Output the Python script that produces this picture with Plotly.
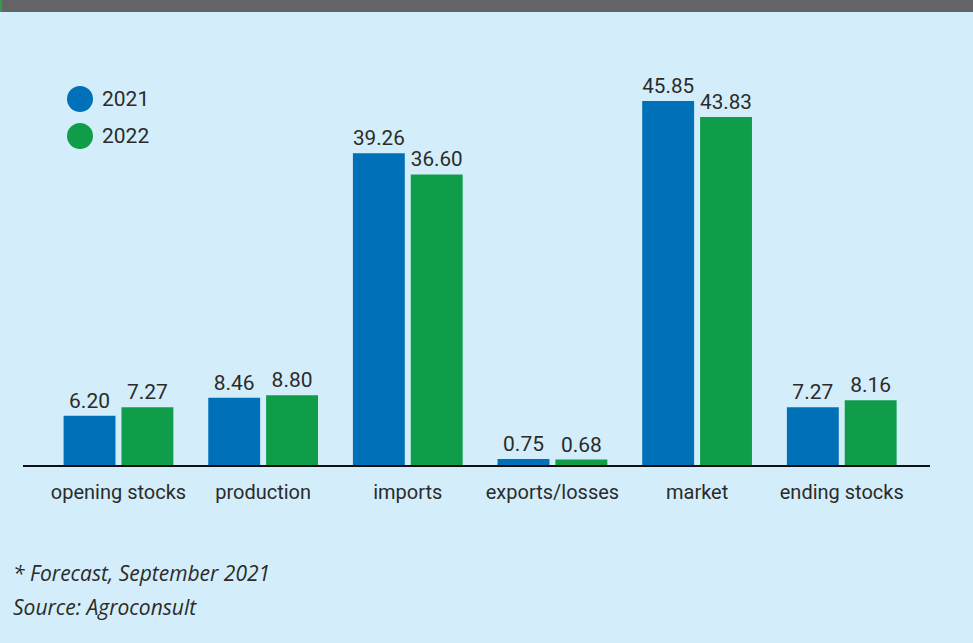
import plotly.graph_objects as go

categories = ["opening stocks", "production", "imports", "exports/losses", "market", "ending stocks"]
values_2021 = [6.20, 8.46, 39.26, 0.75, 45.85, 7.27]
values_2022 = [7.27, 8.80, 36.60, 0.68, 43.83, 8.16]
series_names = ["2021", "2022"]
footnotes = ["* Forecast, September 2021", "Source: Agroconsult"]

BG = "#D3EEFA"
BLUE = "#0070B9"
GREEN = "#0F9D4A"
TEXT = "#2B2B2B"
FONT = "Roboto, Liberation Sans, sans-serif"

W, H = 973, 643
L, R, T, B = 23, 43, 60, 178
plot_w = W - L - R
plot_h = H - T - B
PX_PER_UNIT = 7.94

x_idx = list(range(len(categories)))


def px_to_paper_y(py):
    return (H - B - py) / plot_h


def px_to_paper_x(px):
    return (px - L) / plot_w


fig = go.Figure()
series = [(series_names[0], values_2021, BLUE), (series_names[1], values_2022, GREEN)]
for name, vals, color in series:
    fig.add_trace(go.Bar(
        x=x_idx, y=vals, name=name, marker_color=color, marker_line_width=0,
        text=[f"{v:.2f}" for v in vals], textposition="outside",
        textfont=dict(family=FONT, size=21, color=TEXT),
        cliponaxis=False, showlegend=False,
    ))

annotations = []
shapes = []

# legend: round swatches with year labels
for i, (name, _, color) in enumerate(series):
    cy = px_to_paper_y(99 + 37 * i)
    cx = px_to_paper_x(80)
    shapes.append(dict(
        type="circle", xref="paper", yref="paper",
        xsizemode="pixel", ysizemode="pixel", xanchor=cx, yanchor=cy,
        x0=-13, x1=13, y0=-13, y1=13,
        fillcolor=color, line_width=0,
    ))
    annotations.append(dict(
        text=name, xref="paper", yref="paper",
        x=px_to_paper_x(100), y=cy, xanchor="left", yanchor="middle",
        showarrow=False, font=dict(family=FONT, size=21, color=TEXT),
    ))

for i, txt in enumerate(footnotes):
    annotations.append(dict(
        text=f"<i>{txt}</i>", xref="paper", yref="paper",
        x=px_to_paper_x(11), y=px_to_paper_y(573 + 34 * i),
        xanchor="left", yanchor="middle", showarrow=False,
        font=dict(family="Open Sans, Liberation Sans, sans-serif", size=21, color=TEXT),
    ))

# dark header band at top
shapes.append(dict(type="rect", xref="paper", yref="paper",
                   x0=px_to_paper_x(0), x1=px_to_paper_x(W),
                   y0=px_to_paper_y(12), y1=px_to_paper_y(0),
                   fillcolor="#646466", line_width=0, layer="above"))
shapes.append(dict(type="rect", xref="paper", yref="paper",
                   x0=px_to_paper_x(0), x1=px_to_paper_x(2),
                   y0=px_to_paper_y(12), y1=px_to_paper_y(0),
                   fillcolor="#2E9E4B", line_width=0, layer="above"))

fig.update_layout(
    width=W, height=H,
    margin=dict(l=L, r=R, t=T, b=B, pad=0),
    paper_bgcolor=BG, plot_bgcolor=BG,
    barmode="group", bargap=0.2, bargroupgap=0.103,
    font=dict(family=FONT, color=TEXT),
    showlegend=False,
    xaxis=dict(
        range=[-0.66, 5.61], tickmode="array", tickvals=x_idx, ticktext=categories,
        showgrid=False, zeroline=False, showline=True, linecolor="#111111", linewidth=1.5,
        ticks="", tickfont=dict(family=FONT, size=20, color=TEXT), ticklabelstandoff=8,
        fixedrange=True,
    ),
    yaxis=dict(range=[0, plot_h / PX_PER_UNIT], visible=False, showgrid=False, zeroline=False),
    annotations=annotations,
    shapes=shapes,
)

fig.write_html("out.html")
